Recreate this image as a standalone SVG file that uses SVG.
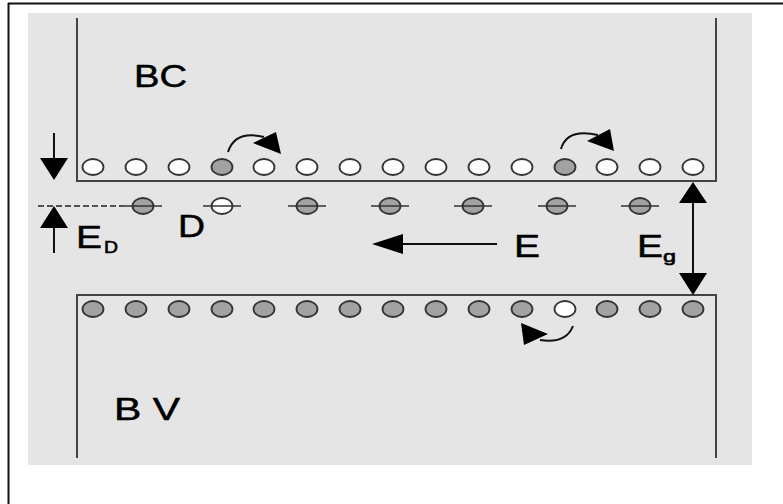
<svg xmlns="http://www.w3.org/2000/svg" width="783" height="504" viewBox="0 0 783 504">
  <style>
    .frame { stroke: #111; stroke-width: 2; fill: none; }
    .band { stroke: #444; stroke-width: 2; fill: none; }
    .e { stroke: #333; stroke-width: 1.8; }
    .full { fill: #a2a2a2; }
    .empty { fill: #ffffff; }
    .lvl { stroke: #333; stroke-width: 1.5; }
    .lbl { font-family: "Liberation Sans", Arial, sans-serif; font-size: 31px; fill: #000; stroke: #000; stroke-width: 0.5; }
    .sub { font-family: "Liberation Sans", Arial, sans-serif; font-size: 17px; fill: #000; stroke: #000; stroke-width: 0.6; }
    .wire { stroke: #111; stroke-width: 2; fill: none; }
    .head { fill: #000; }
    .dash { stroke: #222; stroke-width: 1.6; stroke-dasharray: 6 3; fill: none; }
  </style>
  <defs>
    <ellipse id="site" rx="10.5" ry="8"/>
  </defs>

  <!-- page frame and backdrop -->
  <rect width="783" height="504" fill="#ffffff"/>
  <line class="frame" x1="8" y1="3.5" x2="783" y2="3.5"/>
  <line class="frame" x1="8.5" y1="3" x2="8.5" y2="504"/>
  <rect x="28" y="13" width="724" height="452" fill="#e5e5e5"/>

  <!-- conduction band -->
  <g id="band-bc">
    <polyline class="band" points="77,18 77,181 716,181 716,18"/>
    <text class="lbl" x="134" y="87" textLength="53" lengthAdjust="spacingAndGlyphs">BC</text>
    <g class="e">
      <use href="#site" class="empty" x="93" y="167"/>
      <use href="#site" class="empty" x="136" y="167"/>
      <use href="#site" class="empty" x="179" y="167"/>
      <use href="#site" class="full" x="222" y="167"/>
      <use href="#site" class="empty" x="264" y="167"/>
      <use href="#site" class="empty" x="307" y="167"/>
      <use href="#site" class="empty" x="350" y="167"/>
      <use href="#site" class="empty" x="393" y="167"/>
      <use href="#site" class="empty" x="436" y="167"/>
      <use href="#site" class="empty" x="479" y="167"/>
      <use href="#site" class="empty" x="522" y="167"/>
      <use href="#site" class="full" x="565" y="167"/>
      <use href="#site" class="empty" x="607" y="167"/>
      <use href="#site" class="empty" x="650" y="167"/>
      <use href="#site" class="empty" x="693" y="167"/>
    </g>
  </g>

  <!-- valence band -->
  <g id="band-bv">
    <polyline class="band" points="77,458 77,295 716,295 716,458"/>
    <text class="lbl" x="114" y="420" textLength="66" lengthAdjust="spacingAndGlyphs">B V</text>
    <g class="e">
      <use href="#site" class="full" x="93" y="309"/>
      <use href="#site" class="full" x="136" y="309"/>
      <use href="#site" class="full" x="179" y="309"/>
      <use href="#site" class="full" x="222" y="309"/>
      <use href="#site" class="full" x="264" y="309"/>
      <use href="#site" class="full" x="307" y="309"/>
      <use href="#site" class="full" x="350" y="309"/>
      <use href="#site" class="full" x="393" y="309"/>
      <use href="#site" class="full" x="436" y="309"/>
      <use href="#site" class="full" x="479" y="309"/>
      <use href="#site" class="full" x="522" y="309"/>
      <use href="#site" class="empty" x="565" y="309"/>
      <use href="#site" class="full" x="607" y="309"/>
      <use href="#site" class="full" x="650" y="309"/>
      <use href="#site" class="full" x="693" y="309"/>
    </g>
  </g>

  <!-- donor level -->
  <g id="donors">
    <line class="dash" x1="38" y1="206" x2="124" y2="206"/>
    <g class="e">
      <use href="#site" class="full" x="143" y="206"/>
      <use href="#site" class="empty" x="222" y="206"/>
      <use href="#site" class="full" x="307" y="206"/>
      <use href="#site" class="full" x="390" y="206"/>
      <use href="#site" class="full" x="473" y="206"/>
      <use href="#site" class="full" x="557" y="206"/>
      <use href="#site" class="full" x="640" y="206"/>
    </g>
    <g class="lvl">
      <line x1="124" y1="206" x2="162" y2="206"/>
      <line x1="203" y1="206" x2="241" y2="206"/>
      <line x1="288" y1="206" x2="326" y2="206"/>
      <line x1="371" y1="206" x2="409" y2="206"/>
      <line x1="454" y1="206" x2="492" y2="206"/>
      <line x1="538" y1="206" x2="576" y2="206"/>
      <line x1="621" y1="206" x2="659" y2="206"/>
    </g>
    <text class="lbl" x="178" y="237" textLength="27" lengthAdjust="spacingAndGlyphs">D</text>
  </g>

  <!-- labels -->
  <g id="label-ed">
    <text class="lbl" x="76" y="248" textLength="26" lengthAdjust="spacingAndGlyphs">E</text>
    <text class="sub" x="104" y="253" textLength="14" lengthAdjust="spacingAndGlyphs">D</text>
  </g>
  <g id="label-e">
    <text class="lbl" x="514" y="257" textLength="26" lengthAdjust="spacingAndGlyphs">E</text>
  </g>
  <g id="label-eg">
    <text class="lbl" x="637" y="257" textLength="26" lengthAdjust="spacingAndGlyphs">E</text>
    <text class="sub" x="663" y="262" textLength="13" lengthAdjust="spacingAndGlyphs">g</text>
  </g>

  <!-- arrows -->
  <g id="connectors">
    <!-- E_D markers -->
    <line class="wire" x1="54" y1="133" x2="54" y2="160"/>
    <polygon class="head" points="40,158 68,158 54,180"/>
    <line class="wire" x1="54" y1="226" x2="54" y2="253"/>
    <polygon class="head" points="40,228 68,228 54,206"/>
    <!-- field E -->
    <line class="wire" x1="497" y1="244" x2="400" y2="244"/>
    <polygon class="head" points="372,244 403,234 403,254"/>
    <!-- gap Eg -->
    <line class="wire" x1="693" y1="200" x2="693" y2="276"/>
    <polygon class="head" points="693,182 679,203 707,203"/>
    <polygon class="head" points="693,295 679,273 707,273"/>
    <!-- hops -->
    <path class="wire" d="M228,152 Q235,130 264,137"/>
    <polygon class="head" points="253,143 276,132 281,154"/>
    <path class="wire" d="M561,149 Q567,128 598,135"/>
    <polygon class="head" points="587,141 610,129 614,151"/>
    <path class="wire" d="M573,326 Q566,344 540,340"/>
    <polygon class="head" points="521,323 524,345 548,334"/>
  </g>
</svg>
